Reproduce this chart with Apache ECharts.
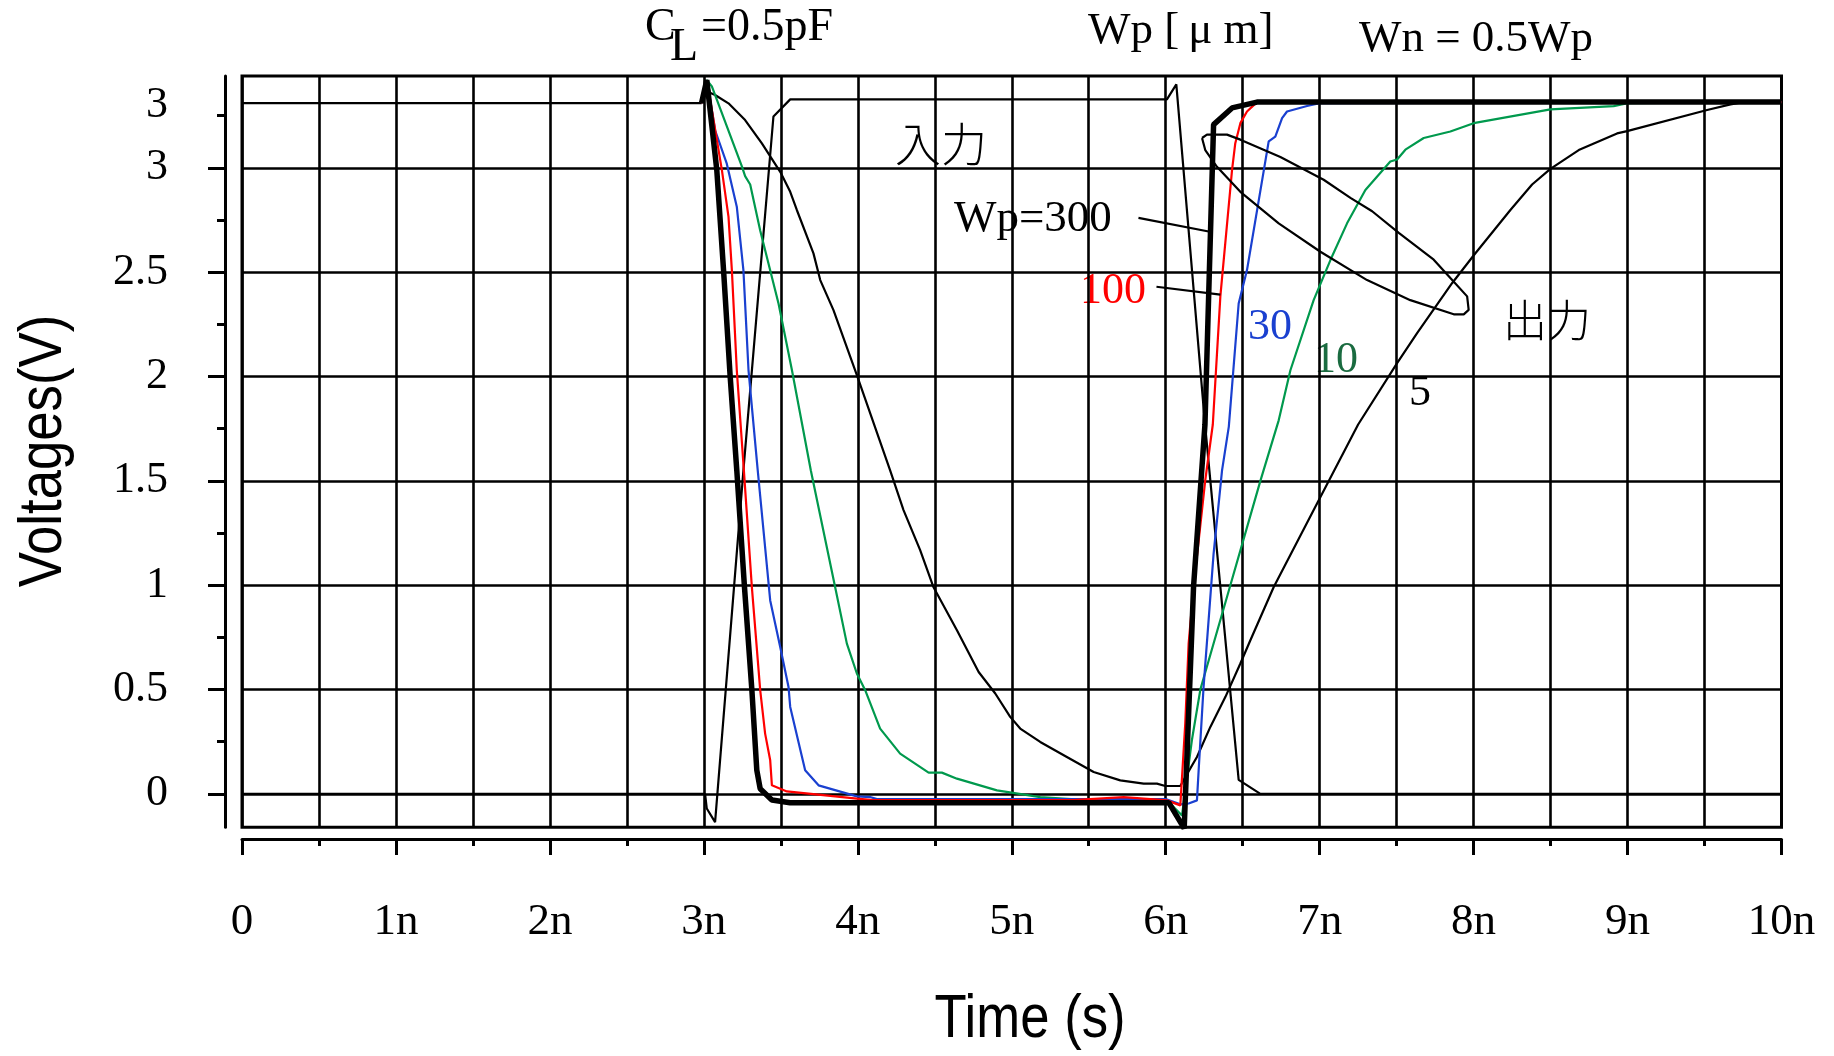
<!DOCTYPE html>
<html>
<head>
<meta charset="utf-8">
<title>CMOS inverter transient</title>
<script src="https://cdn.jsdelivr.net/npm/echarts@6/dist/echarts.min.js"></script>
<style>
html, body { margin: 0; padding: 0; background: #fff; }
#main { width: 1834px; height: 1056px; }
</style>
</head>
<body>
<div id="main"></div>
<script>
//x轴刻度文字 (0 ~ 10ns)
var xTickLabels = ['0', '1n', '2n', '3n', '4n', '5n', '6n', '7n', '8n', '9n', '10n'];
//y轴刻度
var yMajorTicks = [0, 0.5, 1, 1.5, 2, 2.5, 3];
var yMinorTicks = [0.25, 0.75, 1.25, 1.75, 2.25, 2.75, 3.25];
var yLabelValues = [0, 0.5, 1, 1.5, 2, 2.5, 3, 3.3];
var yLabelTexts = ['0', '0.5', '1', '1.5', '2', '2.5', '3', '3'];

//波形数据 [t(ns), V]
var inputWave = [[0, 0], [3.008, 0], [3.019, -0.07], [3.073, -0.135], [3.257, 1.55], [3.452, 3.246], [3.561, 3.328],
	[6.008, 3.328], [6.069, 3.40], [6.253, 1.79], [6.354, 1.0], [6.474, 0.067], [6.615, 0], [10, 0]];
var outWp300 = [[2.985, 3.31], [3.019, 3.42], [3.084, 2.99], [3.128, 2.51], [3.171, 2.0], [3.214, 1.55], [3.264, 0.99],
	[3.312, 0.497], [3.344, 0.113], [3.366, 0.025], [3.442, -0.029], [3.56, -0.042], [6.02, -0.042], [6.12, -0.165],
	[6.181, 0.994], [6.255, 1.77], [6.311, 3.207], [6.431, 3.287], [6.593, 3.315], [10, 3.315]];
var outWp100 = [[2.985, 3.31], [3.02, 3.42], [3.117, 2.99], [3.16, 2.766], [3.182, 2.51], [3.214, 2.03], [3.26, 1.55],
	[3.312, 0.99], [3.366, 0.497], [3.398, 0.289], [3.431, 0.161], [3.442, 0.041], [3.539, 0.012], [3.994, -0.023],
	[4.1, -0.03], [5.4, -0.03], [5.727, -0.015], [6.008, -0.031], [6.095, -0.055], [6.106, 0.08], [6.127, 0.337],
	[6.149, 0.72], [6.181, 0.99], [6.257, 1.503], [6.306, 1.77], [6.355, 2.384], [6.431, 2.99], [6.452, 3.118],
	[6.485, 3.214], [6.528, 3.27], [6.593, 3.315], [10, 3.315]];
var outWp30 = [[2.985, 3.31], [3.02, 3.42], [3.073, 3.18], [3.149, 3.02], [3.214, 2.814], [3.257, 2.51], [3.29, 2.031],
	[3.35, 1.55], [3.431, 0.927], [3.496, 0.704], [3.55, 0.512], [3.561, 0.417], [3.658, 0.113], [3.745, 0.041],
	[3.994, -0.012], [4.08, -0.015], [4.124, -0.025], [6.0, -0.025], [6.095, -0.05], [6.149, -0.046], [6.203, -0.031],
	[6.214, 0.113], [6.246, 0.512], [6.311, 1.15], [6.366, 1.55], [6.41, 1.76], [6.474, 2.35], [6.528, 2.51],
	[6.669, 3.127], [6.712, 3.15], [6.756, 3.238], [6.788, 3.27], [6.918, 3.296], [7.0, 3.31], [10, 3.315]];
var outWp10 = [[2.985, 3.31], [3.02, 3.42], [3.052, 3.39], [3.247, 3.007], [3.268, 2.96], [3.301, 2.92], [3.366, 2.70],
	[3.485, 2.35], [3.572, 2.031], [3.695, 1.55], [3.853, 0.99], [3.929, 0.72], [3.994, 0.577], [4.048, 0.497],
	[4.145, 0.313], [4.275, 0.193], [4.46, 0.102], [4.546, 0.102], [4.644, 0.073], [4.904, 0.017], [5.185, -0.015],
	[5.51, -0.031], [6.008, -0.031], [6.106, -0.103], [6.17, 0.257], [6.225, 0.5], [6.42, 1.0], [6.615, 1.5],
	[6.734, 1.79], [6.81, 2.03], [6.961, 2.366], [7.07, 2.558], [7.178, 2.734], [7.297, 2.894], [7.459, 3.03],
	[7.503, 3.04], [7.557, 3.087], [7.676, 3.143], [7.849, 3.174], [8.0, 3.214], [8.499, 3.28], [8.91, 3.296],
	[9.0, 3.31], [10, 3.315]];
var outWp5 = [[0, 3.31], [2.985, 3.31], [3.015, 3.42], [3.04, 3.36], [3.073, 3.349], [3.16, 3.309], [3.268, 3.229],
	[3.377, 3.117], [3.496, 2.981], [3.561, 2.885], [3.604, 2.798], [3.712, 2.59], [3.756, 2.462], [3.842, 2.318],
	[3.994, 2.007], [4.21, 1.55], [4.297, 1.36], [4.405, 1.168], [4.492, 0.99], [4.644, 0.784], [4.785, 0.584],
	[4.893, 0.481], [4.99, 0.369], [5.055, 0.313], [5.185, 0.249], [5.358, 0.177], [5.532, 0.105], [5.705, 0.065],
	[5.857, 0.049], [5.943, 0.049], [5.997, 0.038], [6.095, 0.038], [6.14, 0.097], [6.203, 0.177], [6.29, 0.321],
	[6.388, 0.465], [6.485, 0.625], [6.55, 0.736], [6.701, 0.99], [7.005, 1.423], [7.25, 1.77], [7.503, 2.064],
	[7.633, 2.208], [7.86, 2.447], [8.0, 2.58], [8.239, 2.798], [8.38, 2.92], [8.499, 2.995], [8.683, 3.085],
	[8.932, 3.165], [8.997, 3.176], [9.517, 3.277], [9.669, 3.304], [9.75, 3.315], [10, 3.315]];
//“出力”的圈
var outputLoop = [[6.236, 3.143], [6.268, 3.159], [6.398, 3.159], [6.485, 3.135], [6.745, 3.052], [7.026, 2.943],
	[7.2, 2.856], [7.341, 2.792], [7.514, 2.688], [7.741, 2.56], [7.849, 2.472], [7.958, 2.384], [7.968, 2.319],
	[7.936, 2.298], [7.871, 2.298], [7.589, 2.366], [7.308, 2.462], [7.005, 2.598], [6.734, 2.734], [6.485, 2.885],
	[6.333, 3.005], [6.257, 3.085], [6.236, 3.143]];
//引出线
var leader300 = [[5.823, 2.76], [6.279, 2.695]];
var leader100 = [[5.94, 2.43], [6.355, 2.392]];

var serif = '"Liberation Serif", "DejaVu Serif", serif';
var cjk = '"Noto Sans CJK JP", "Noto Sans CJK SC", sans-serif';
var sans = '"Liberation Sans", Arial, sans-serif';

var mychart = echarts.init(document.getElementById('main'), null, { renderer: 'canvas' });

function wave(name, data, color, width) {
	return {
		name: name,
		type: 'line',
		data: data,
		symbol: 'none',
		showSymbol: false,
		silent: true,
		animation: false,
		lineStyle: { color: color, width: width },
		clip: true
	};
}

function txt(text, x, y, font, color, align) {
	return {
		type: 'text',
		x: x,
		y: y,
		silent: true,
		style: {
			text: text,
			font: font,
			fill: color,
			textAlign: align || 'left',
			align: align || 'left',
			textVerticalAlign: 'middle',
			verticalAlign: 'middle'
		}
	};
}

function findLabel(v) {
	for (var i = 0; i < yLabelValues.length; i++) {
		if (Math.abs(yLabelValues[i] - v) < 1e-6) return yLabelTexts[i];
	}
	return '';
}

var yBase = {
	type: 'value',
	min: -0.16,
	max: 3.44,
	position: 'left'
};

var option = {
	backgroundColor: '#fff',
	animation: false,
	grid: {
		left: 242,
		top: 76,
		right: 52.5,
		bottom: 228.7,
		show: true,
		borderColor: '#000',
		borderWidth: 3,
		backgroundColor: 'transparent'
	},
	xAxis: [{
		type: 'value',
		min: 0,
		max: 10,
		interval: 1,
		position: 'bottom',
		offset: 11.6,
		axisLine: { show: true, onZero: false, lineStyle: { color: '#000', width: 3 } },
		axisTick: { show: true, length: 16, lineStyle: { color: '#000', width: 3 } },
		minorTick: { show: true, splitNumber: 2, length: 7, lineStyle: { color: '#000', width: 3 } },
		splitLine: { show: true, lineStyle: { color: '#000', width: 2.6 } },
		minorSplitLine: { show: true, lineStyle: { color: '#000', width: 2.6 } },
		axisLabel: {
			margin: 61,
			color: '#000',
			fontSize: 45,
			fontFamily: serif,
			formatter: function (v) { return xTickLabels[Math.round(v)]; }
		}
	}],
	yAxis: [
		Object.assign({}, yBase, {
			axisLine: { show: false, onZero: false },
			axisTick: { show: false, customValues: yMajorTicks },
			splitLine: { show: true, lineStyle: { color: '#000', width: 2.6 } },
			axisLabel: {
				customValues: yLabelValues,
				margin: 74,
				color: '#000',
				fontSize: 44,
				fontFamily: serif,
				formatter: function (v) { return findLabel(v); }
			}
		}),
		Object.assign({}, yBase, {
			offset: 17,
			axisLine: { show: true, onZero: false, lineStyle: { color: '#000', width: 3 } },
			axisTick: { show: true, customValues: yMajorTicks, length: 17, lineStyle: { color: '#000', width: 3 } },
			splitLine: { show: false },
			axisLabel: { show: false }
		}),
		Object.assign({}, yBase, {
			offset: 17,
			axisLine: { show: false, onZero: false },
			axisTick: { show: true, customValues: yMinorTicks, length: 8, lineStyle: { color: '#000', width: 3 } },
			splitLine: { show: false },
			axisLabel: { show: false }
		})
	],
	series: [
		wave('入力', inputWave, '#000', 2.2),
		wave('Wp=5', outWp5, '#000', 2.2),
		wave('Wp=10', outWp10, '#00994d', 2.2),
		wave('Wp=30', outWp30, '#1a40d0', 2.2),
		wave('Wp=100', outWp100, '#ff0000', 2.2),
		wave('Wp=300', outWp300, '#000', 5.5),
		wave('loop', outputLoop, '#000', 2.2),
		wave('leader300', leader300, '#000', 2.2),
		wave('leader100', leader100, '#000', 2.2)
	],
	graphic: [
		txt('C', 645, 28, '46px ' + serif, '#000'),
		txt('L', 670, 48, '46px ' + serif, '#000'),
		txt('=0.5pF', 701, 28, '46px ' + serif, '#000'),
		txt('Wp [\u2009\u03bc m]', 1088, 31, '45px ' + serif, '#000'),
		txt('Wn = 0.5Wp', 1359, 39, '45px ' + serif, '#000'),
		txt('入力', 895, 144, '300 46px ' + cjk, '#000'),
		txt('Wp=300', 954, 219, '45px ' + serif, '#000'),
		txt('100', 1080, 291, '44px ' + serif, '#ff0000'),
		txt('30', 1248, 327, '44px ' + serif, '#1a40d0'),
		txt('10', 1314, 360, '44px ' + serif, '#1a6b40'),
		txt('5', 1409, 393, '44px ' + serif, '#000'),
		txt('出力', 1503, 320, '300 44px ' + cjk, '#000'),
		Object.assign(txt('Time (s)', 1030, 1020, '62px ' + sans, '#000', 'center'), { scaleX: 0.85 }),
		Object.assign(txt('Voltages(V)', 44, 451, '62px ' + sans, '#000', 'center'), { rotation: Math.PI / 2, scaleX: 0.85 })
	]
};

mychart.setOption(option);
</script>
</body>
</html>
